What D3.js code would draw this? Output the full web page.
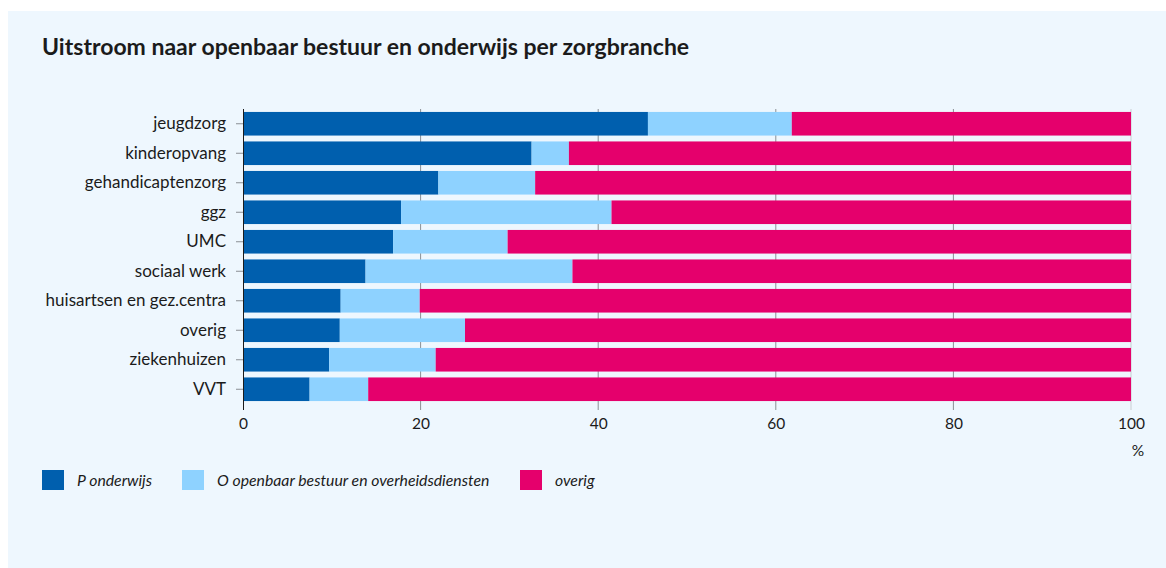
<!DOCTYPE html>
<html>
<head>
<meta charset="utf-8">
<script src="https://cdn.jsdelivr.net/npm/d3@7"></script>
<style>
  body { margin: 0; background: #ffffff; }
  svg text { font-family: Lato, "Open Sans", sans-serif; fill: #1b1b1b; }
</style>
</head>
<body>
<svg id="chart" width="1166" height="568"></svg>
<script>
// branches, top to bottom
var categories = ["jeugdzorg", "kinderopvang", "gehandicaptenzorg", "ggz", "UMC",
  "sociaal werk", "huisartsen en gez.centra", "overig", "ziekenhuizen", "VVT"];

// shares in %
var onderwijs = [45.6, 32.5, 22.0, 17.8, 16.9, 13.8, 11.0, 10.9, 9.7, 7.5];
var openbaar  = [16.2, 4.2, 10.9, 23.7, 12.9, 23.3, 8.9, 14.1, 12.0, 6.6];
var overig = onderwijs.map(function(d, i) { return 100 - d - openbaar[i]; });

var seriesNames = ["P onderwijs", "O openbaar bestuur en overheidsdiensten", "overig"];
var xTicks = [0, 20, 40, 60, 80, 100];

var colors = ["#005fae", "#8ed2ff", "#e5006c"];

var svg = d3.select("#chart");

// background panel
svg.append("rect")
  .attr("x", 8).attr("y", 11)
  .attr("width", 1158).attr("height", 557)
  .attr("fill", "#eef7fe");

// title
svg.append("text")
  .attr("x", 42).attr("y", 55)
  .style("font-size", "23px")
  .style("font-weight", "bold")
  .text("Uitstroom naar openbaar bestuur en onderwijs per zorgbranche");

var rows = categories.map(function(c, i) {
  return { cat: c, a: onderwijs[i], b: openbaar[i], c: overig[i] };
});

var stack = d3.stack().keys(["a", "b", "c"]);
var layers = stack(rows);

var x = d3.scaleLinear().domain([0, 100]).range([243, 1131]);
var y = d3.scaleBand().domain(categories).range([109, 404]).paddingInner(0.2).paddingOuter(0.1);

// gridlines
svg.append("g")
  .selectAll("line")
  .data(xTicks.slice(1))
  .enter().append("line")
  .attr("x1", function(d) { return x(d); })
  .attr("x2", function(d) { return x(d); })
  .attr("y1", 109).attr("y2", 410)
  .attr("stroke", function(d) { return d == 100 ? "#c8cdd2" : "#8a8f94"; })
  .attr("stroke-width", 1);

// bars
svg.append("g")
  .selectAll("g")
  .data(layers)
  .enter().append("g")
  .attr("fill", function(d, i) { return colors[i]; })
  .selectAll("rect")
  .data(function(d) { return d; })
  .enter().append("rect")
  .attr("x", function(d) { return x(d[0]); })
  .attr("y", function(d) { return y(d.data.cat); })
  .attr("width", function(d) { return x(d[1]) - x(d[0]); })
  .attr("height", y.bandwidth());

// y axis
var yAxis = svg.append("g")
  .attr("transform", "translate(243,0)")
  .call(d3.axisLeft(y).tickSize(7).tickPadding(10));
yAxis.select(".domain").attr("stroke", "#1b1b1b").attr("d", "M0.5,109V410");
yAxis.selectAll(".tick line").attr("stroke", "#8a8f94");
yAxis.selectAll(".tick text")
  .style("font-size", "17px")
  .attr("fill", "#1b1b1b");

// x axis labels
var xAxis = svg.append("g")
  .attr("transform", "translate(0,404)")
  .call(d3.axisBottom(x).tickValues(xTicks).tickSize(0).tickPadding(14));
xAxis.select(".domain").remove();
xAxis.selectAll(".tick text")
  .style("font-size", "15.5px")
  .attr("fill", "#1b1b1b");

svg.append("text")
  .attr("x", 1138).attr("y", 456)
  .attr("text-anchor", "middle")
  .style("font-size", "15.5px")
  .text("%");

// legend
var legendX = [42, 182, 520];
var legend = svg.append("g")
  .selectAll("g")
  .data(seriesNames)
  .enter().append("g")
  .attr("transform", function(d, i) { return "translate(" + legendX[i] + ",470)"; });

legend.append("rect")
  .attr("width", 22).attr("height", 20)
  .attr("fill", function(d, i) { return colors[i]; });

legend.append("text")
  .attr("x", 35).attr("y", 15.5)
  .style("font-size", "15.8px")
  .style("font-style", "italic")
  .text(function(d) { return d; });
</script>
</body>
</html>
